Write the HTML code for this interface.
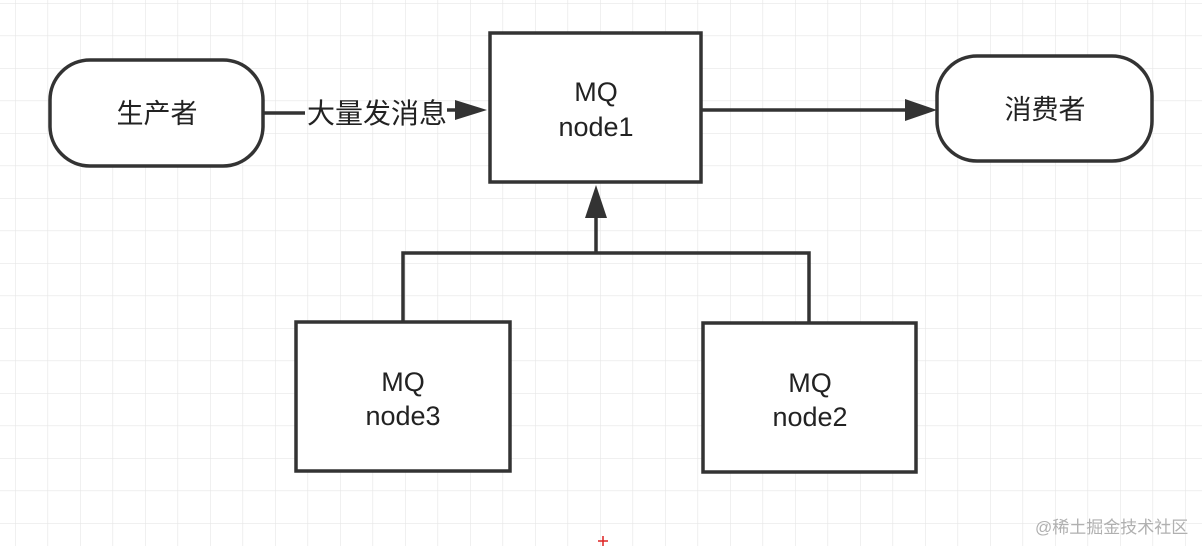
<!DOCTYPE html>
<html><head><meta charset="utf-8"><style>
html,body{margin:0;padding:0;background:#fff;}
svg{display:block;}
text{font-family:"Liberation Sans","Noto Sans CJK SC",sans-serif;fill:#222;}
</style></head><body>
<svg width="1202" height="546" viewBox="0 0 1202 546" xmlns="http://www.w3.org/2000/svg">
<defs>
<pattern id="g" x="15" y="3" width="32.5" height="32.5" patternUnits="userSpaceOnUse">
<path d="M0 0V32.5M0 0H32.5" stroke="#e6e6e6" stroke-width="1.2" fill="none"/>
</pattern>
</defs>
<rect width="1202" height="546" fill="#fff"/>
<rect width="1202" height="546" fill="url(#g)"/>
<g stroke="#333" stroke-width="3.5" fill="#fff">
<rect x="50" y="60" width="213" height="106" rx="40"/>
<rect x="937" y="56" width="215" height="105" rx="40"/>
<rect x="490" y="33" width="211" height="149"/>
<rect x="296" y="322" width="214" height="149"/>
<rect x="703" y="323" width="213" height="149"/>
<path d="M263 113H305M447 110H460M701 110H910M403 322V253H809V323M596 253V214" fill="none"/>
</g>
<g fill="#333">
<polygon points="455,100 487,110 455,120"/>
<polygon points="905,99 937,110 905,121"/>
<polygon points="585,218 596,185 607,218"/>
</g>
<g font-size="27" text-anchor="middle">
<text x="157" y="123">生产者</text>
<text x="1045" y="119">消费者</text>
<text x="377" y="123" font-size="28">大量发消息</text>
<text x="596" y="101">MQ</text>
<text x="596" y="136">node1</text>
<text x="403" y="391">MQ</text>
<text x="403" y="425">node3</text>
<text x="810" y="392">MQ</text>
<text x="810" y="426">node2</text>
</g>
<text x="1035" y="533" font-size="17" style="fill:#b0b0b0">@稀土掘金技术社区</text>
<path d="M598 541H608M603 536V546" stroke="#d22" stroke-width="1.5"/>
</svg>
</body></html>
